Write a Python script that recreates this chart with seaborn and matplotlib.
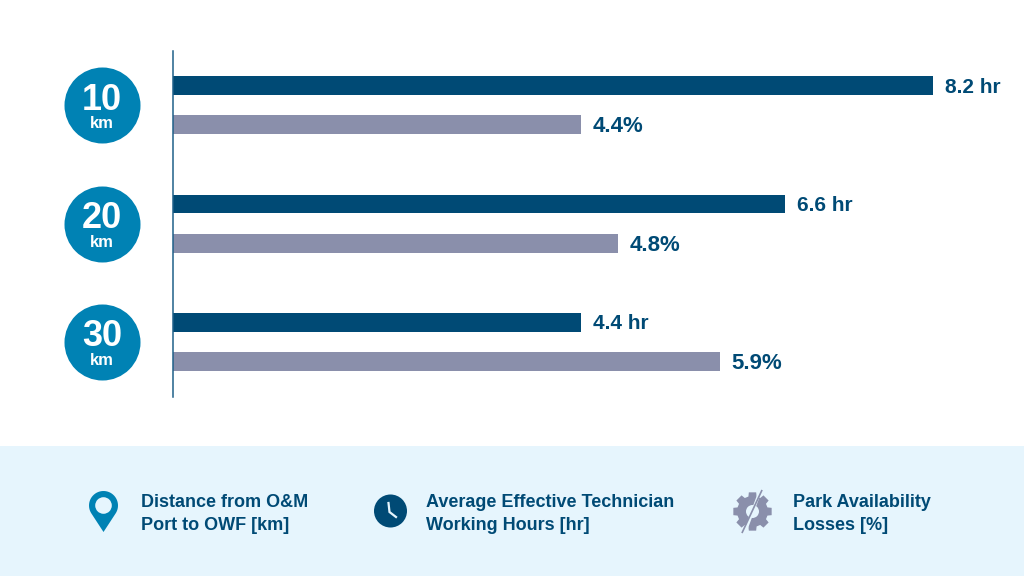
import numpy as np
import pandas as pd
import seaborn as sns
import matplotlib.pyplot as plt
from matplotlib.patches import Circle, Polygon, Rectangle

plt.rcParams['font.family'] = ['Liberation Sans', 'DejaVu Sans']
plt.rcParams['font.weight'] = 'bold'

# Data
distances = ['10', '20', '30']
hours = [8.2, 6.6, 4.4]
losses = [4.4, 4.8, 5.9]
hour_labels = ['8.2 hr', '6.6 hr', '4.4 hr']
loss_labels = ['4.4%', '4.8%', '5.9%']
legend_labels = ['Distance from O&M\nPort to OWF [km]',
                 'Average Effective Technician\nWorking Hours [hr]',
                 'Park Availability\nLosses [%]']

DARK = '#004A75'
GREY = '#8A8FAB'
BLUE = '#0082B4'
BAND = '#E6F5FD'

df = pd.DataFrame({
    'distance': distances * 2,
    'value': hours + losses,
    'series': ['hours'] * 3 + ['losses'] * 3,
})

fig = plt.figure(figsize=(10.24, 5.76), dpi=100, facecolor='white')

# Overlay in pixel coords for the band and the legend icons
bg = fig.add_axes([0, 0, 1, 1], zorder=0)
bg.set_xlim(0, 1024)
bg.set_ylim(576, 0)
bg.axis('off')
bg.add_patch(Rectangle((0, 446), 1024, 130, color=BAND, lw=0))

# Main bars
ax = fig.add_axes([173 / 1024, 1 - 397 / 576, 851 / 1024, 346 / 576], zorder=1)
ax.patch.set_alpha(0)
sns.barplot(data=df, y='distance', x='value', hue='series', order=distances,
            palette=[DARK, GREY], width=0.66, gap=0.515, saturation=1.0,
            legend=False, orient='h', ax=ax)
ax.set_xlim(0, 851 / 92.68)
ax.set_ylim((397 - 105.25) / 118.3, (51 - 105.25) / 118.3)
ax.set_xlabel('')
ax.set_ylabel('')
ax.set_xticks([])
ax.set_yticks([])
sns.despine(ax=ax, left=False, bottom=True)
ax.spines['left'].set_color('#1F6089')
ax.spines['left'].set_linewidth(1.1)

for lab in ax.bar_label(ax.containers[0], labels=hour_labels, padding=8.6, color=DARK, fontsize=15, fontweight='bold'):
    lab.set_y(-1.0)
for lab in ax.bar_label(ax.containers[1], labels=loss_labels, padding=8.6, color=DARK, fontsize=16, fontweight='bold'):
    lab.set_y(-1.5)

# Distance badges, left of the axis, same y scale as the bars
left = fig.add_axes([0, 1 - 397 / 576, 173 / 1024, 346 / 576], sharey=ax, zorder=1)
left.patch.set_alpha(0)
left.set_xlim(0, 173)
left.axis('off')
for i, d in enumerate(distances):
    left.scatter([102], [i], s=2995, color=BLUE, linewidths=0)
    left.annotate(d, (102, i), xytext=(0, 3.7), textcoords='offset points',
                  ha='center', va='center', color='white', fontsize=26, fontweight='bold')
    left.annotate('km', (102, i), xytext=(0, -13.5), textcoords='offset points',
                  ha='center', va='center', color='white', fontsize=12, fontweight='bold')

# Legend text
for x, lab in zip([141, 426.5, 793], legend_labels):
    bg.text(x, 514, lab, color=DARK, fontsize=13, fontweight='bold',
            ha='left', va='center', linespacing=1.4)

# Pin icon
t = np.linspace(np.radians(-33), np.radians(213), 40)
pin = np.column_stack([103.5 + 14.5 * np.cos(t), 505.5 - 14.5 * np.sin(t)])
bg.add_patch(Polygon(np.vstack([pin, [103.5, 532]]), color=BLUE, lw=0))
bg.add_patch(Circle((103.5, 505.5), 8.3, color=BAND, lw=0))

# Clock icon
bg.add_patch(Circle((390.5, 511), 16.5, color=DARK, lw=0))
bg.plot([388.5, 389.5, 396], [503, 512, 517], color=BAND, lw=1.6, solid_joinstyle='miter')

# Gear icon with slash
n_teeth = 8
angles, radii = [], []
for k in range(n_teeth):
    a = 2 * np.pi * k / n_teeth
    step = 2 * np.pi / n_teeth
    angles += [a - 0.34 * step, a - 0.24 * step, a + 0.24 * step, a + 0.34 * step]
    radii += [15.5, 19.5, 19.5, 15.5]
angles = np.array(angles)
radii = np.array(radii)
gear = np.column_stack([752.5 + radii * np.cos(angles), 511.5 + radii * np.sin(angles)])
bg.add_patch(Polygon(gear, color=GREY, lw=0))
bg.add_patch(Circle((752.5, 511.5), 6.5, color=BAND, lw=0))
bg.plot([760.5, 745], [490, 532], color=BAND, lw=2.2)
bg.plot([761.7, 742.3], [490.7, 532.3], color=GREY, lw=1.2)

fig.savefig('out.png', dpi=100)
